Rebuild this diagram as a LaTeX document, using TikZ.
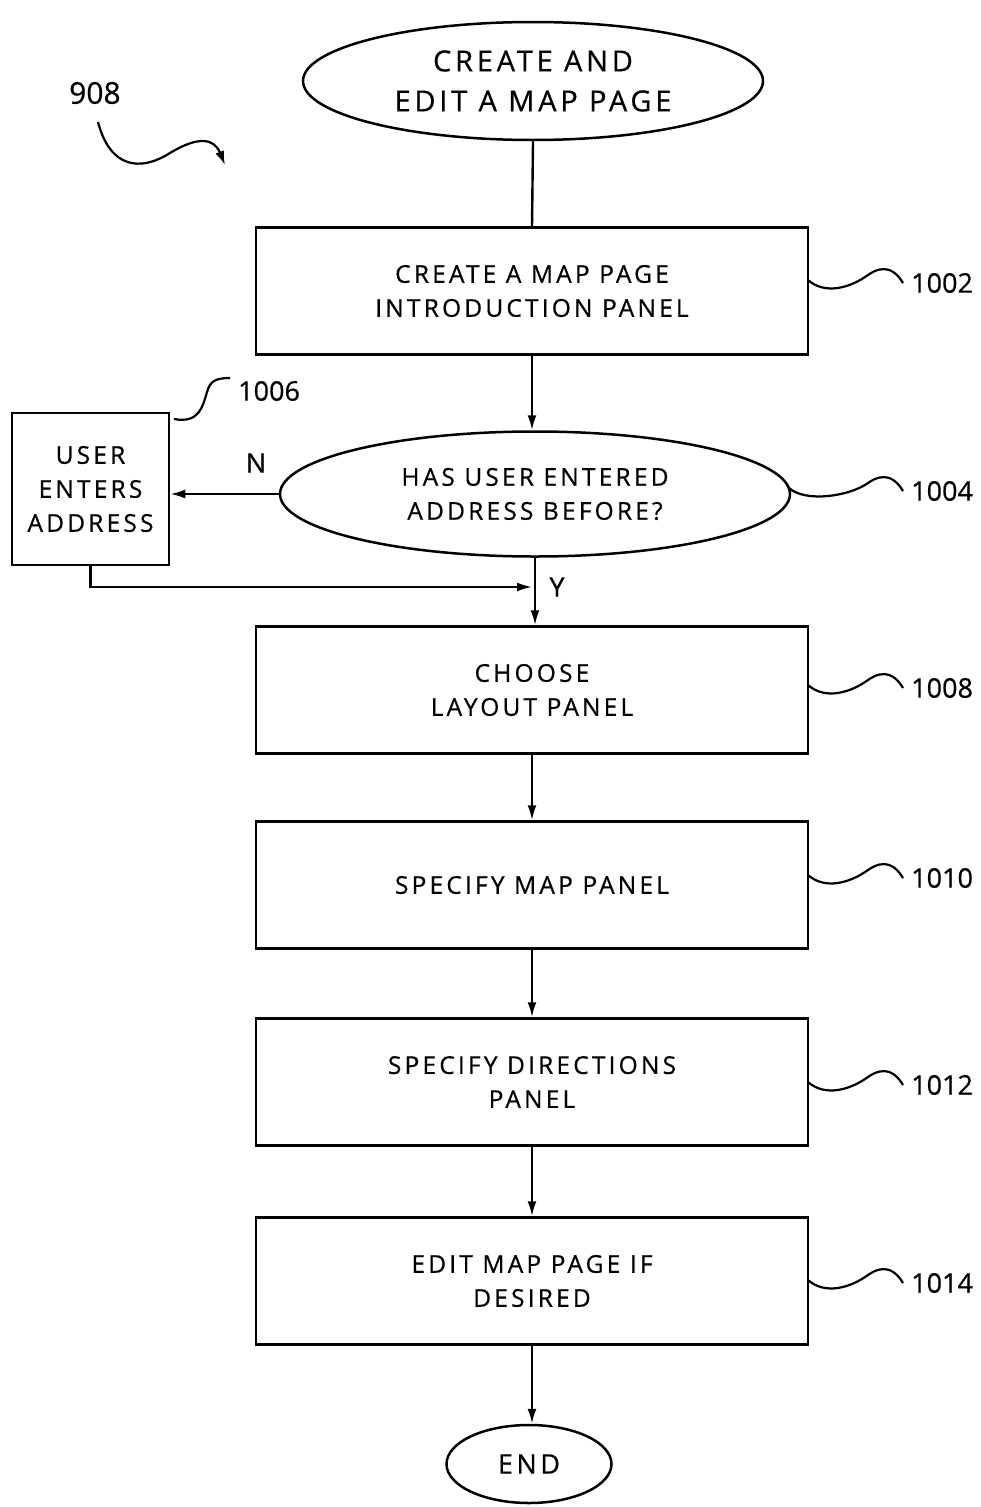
\documentclass[tikz,border=0pt]{standalone}
\usepackage{fontspec}
\setmainfont{Open Sans}[LetterSpace=13,FakeBold=0.6]
\newfontfamily\numfont{Open Sans}[FakeBold=0.6]
\usetikzlibrary{shapes.geometric,arrows.meta}
\begin{document}
\begin{tikzpicture}[x=1pt,y=-1pt,
  box/.style={draw,line width=2.5pt,rectangle,minimum width=552pt,minimum height=127pt,align=center,font=\fontsize{24.5}{34}\selectfont,inner sep=0pt},
  oval/.style={draw,line width=2.5pt,ellipse,align=center,inner sep=0pt},
  arr/.style={line width=2.2pt,-{Latex[length=15pt,width=9pt]}},
  ln/.style={line width=2.4pt},
  sq/.style={line width=2.2pt},
  lab/.style={font=\numfont\fontsize{27}{30}\selectfont,anchor=west,inner sep=0pt}]
\useasboundingbox (0,0) rectangle (980,1507);
\node[oval,minimum width=460pt,minimum height=118pt,font=\fontsize{29}{40}\selectfont] (start) at (533,81) {CREATE AND\\EDIT A MAP PAGE};
\node[box] (b1002) at (532,291) {CREATE A MAP PAGE\\INTRODUCTION PANEL};
\node[oval,minimum width=510pt,minimum height=125pt,font=\fontsize{24.5}{34}\selectfont] (d1004) at (535,494) {HAS USER ENTERED\\ADDRESS BEFORE?};
\node[box,minimum width=157pt,minimum height=152pt] (b1006) at (90.5,489) {USER\\ENTERS\\ADDRESS};
\node[box] (b1008) at (532,690) {CHOOSE\\LAYOUT PANEL};
\node[box] (b1010) at (532,885) {SPECIFY MAP PANEL};
\node[box] (b1012) at (532,1082) {SPECIFY DIRECTIONS\\PANEL};
\node[box] (b1014) at (532,1281) {EDIT MAP PAGE IF\\DESIRED};
\node[oval,minimum width=165pt,minimum height=78pt,font=\fontsize{27}{30}\selectfont] (end) at (529,1464) {END};
% connectors
\draw[ln] (start.south) -- (b1002.north);
\draw[arr] (b1002.south) -- (b1002.south |- d1004.north);
\draw[arr] (d1004.west) -- (d1004.west -| b1006.east);
\node[font=\numfont\fontsize{27}{30}\selectfont] (nlab) at (256,463) {N};
\coordinate (yj) at (532,587);
\draw[arr] (b1006.south) |- (yj);
\draw[arr] (d1004.south) -- (d1004.south |- b1008.north);
\node[font=\numfont\fontsize{27}{30}\selectfont] (ylab) at (557,587) {Y};
\draw[arr] (b1008.south) -- (b1010.north);
\draw[arr] (b1010.south) -- (b1012.north);
\draw[arr] (b1012.south) -- (b1014.north);
\draw[arr] (b1014.south) -- (b1014.south |- end.north);
% reference labels
\node[lab,font=\numfont\fontsize{30}{32}\selectfont] (l908) at (69,93) {908};
\draw[sq,-{Latex[length=14pt,width=9pt]}] (98,122) .. controls (110,168) and (140,172) .. (170,153) .. controls (198,136) and (214,138) .. (225,165);
\foreach \n/\y/\x in {1002/283/808,1004/491/789,1008/688/808,1010/878/808,1012/1085/808,1014/1283/808}{
  \draw[sq] (\x,\y-3) .. controls (\x+17,\y+12) and (850,\y+5) .. (868,\y-8) .. controls (885,\y-20) and (896,\y-12) .. (903,\y);
  \node[lab] (l\n) at (911,\y) {\n};
}
\draw[sq] (174,419) .. controls (200,424) and (203,405) .. (207,392) .. controls (210,382) and (214,378) .. (230,378);
\node[lab] (l1006) at (238,391) {1006};
\end{tikzpicture}
\end{document}
